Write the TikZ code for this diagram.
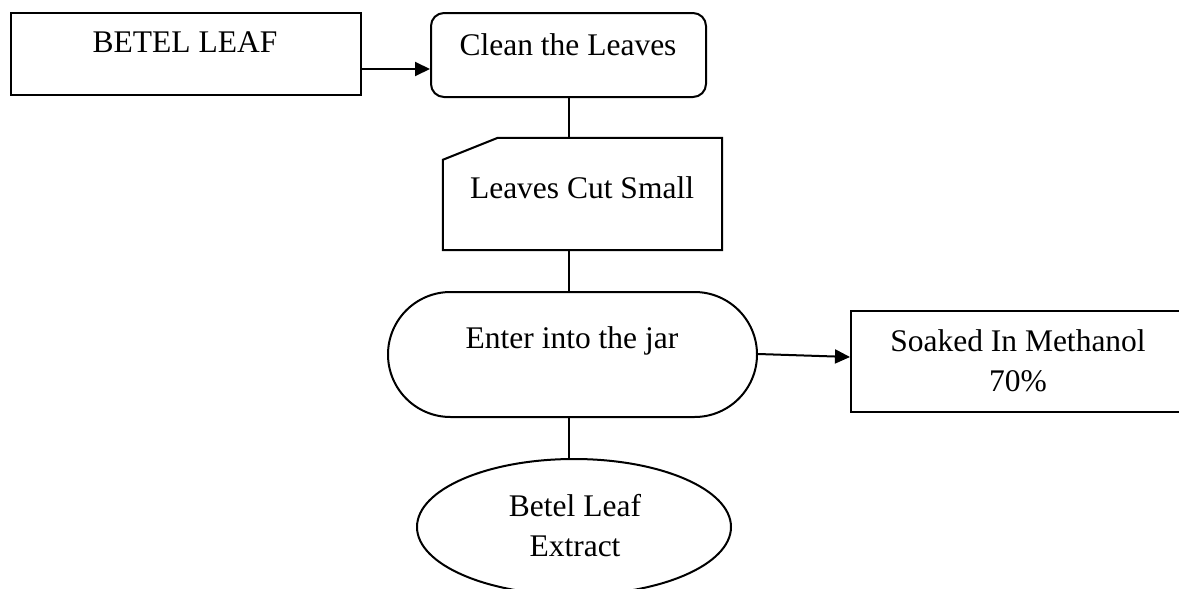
\documentclass[tikz,border=0pt]{standalone}
\usepackage{fontspec}
\setmainfont{Liberation Serif}
\usetikzlibrary{shapes.misc,shapes.geometric,arrows.meta}
\begin{document}
\begin{tikzpicture}[x=1pt,y=1pt,
  shapebox/.style={draw,line width=2pt,inner sep=0pt,fill=white},
  lbl/.style={anchor=base,inner sep=0pt,font=\fontsize{31.5}{40}\selectfont,align=center},
  conn/.style={line width=2pt},
  arr/.style={line width=2pt,-{Triangle[length=15pt,width=14pt]}}]
\useasboundingbox (0,0) rectangle (1179,-589);
\clip (0,0) rectangle (1179,-589);
\fill[white] (0,0) rectangle (1179,-589);
% shapes
\node[shapebox,rectangle,minimum width=350pt,minimum height=82pt] (betel) at (186,-54) {};
\node[shapebox,rectangle,rounded corners=13pt,minimum width=275pt,minimum height=84pt] (clean) at (568.5,-55) {};
\node[rectangle,inner sep=0pt,minimum width=279pt,minimum height=112pt] (cut) at (582.5,-194) {};
\draw[line width=2pt,fill=white,line join=miter] ([xshift=55pt]cut.north west) -- (cut.north east) -- (cut.south east) -- (cut.south west) -- ([yshift=-22pt]cut.north west) -- cycle;
\node[shapebox,rounded rectangle,minimum width=369pt,minimum height=125pt] (jar) at (572.5,-354.5) {};
\node[shapebox,rectangle,minimum width=349pt,minimum height=101pt] (soak) at (1025.5,-361.5) {};
\node[shapebox,ellipse,minimum width=314pt,minimum height=136pt] (ext) at (574,-527) {};
% texts
\node[lbl] (tbetel) at (185,-52) {BETEL LEAF};
\node[lbl] (tclean) at (568,-55) {Clean the Leaves};
\node[lbl] (tcut) at (582,-198) {Leaves Cut Small};
\node[lbl] (tjar) at (572,-348) {Enter into the jar};
\node[lbl] (tsoak) at (1018,-391) {Soaked In Methanol\\70\%};
\node[lbl] (text) at (575,-556) {Betel Leaf\\Extract};
% connectors
\draw[arr] ([yshift=-15pt]betel.east) -- ([yshift=-14pt]clean.west);
\draw[conn] (clean.south) -- (clean.south |- cut.north);
\draw[conn] (clean.south |- cut.south) -- (clean.south |- jar.north);
\draw[conn] (clean.south |- jar.south) -- (clean.south |- ext.north);
\draw[arr] ([yshift=0.5pt]jar.east) -- ([yshift=4.5pt]soak.west);
\end{tikzpicture}
\end{document}
